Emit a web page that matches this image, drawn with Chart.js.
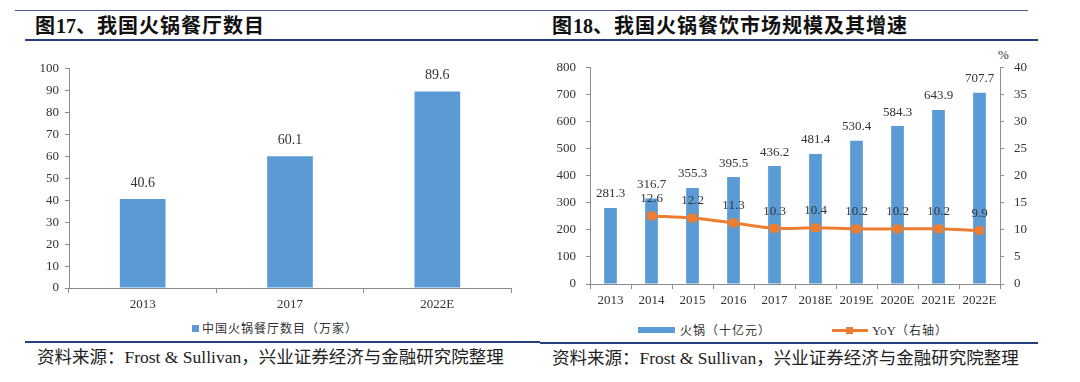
<!DOCTYPE html>
<html>
<head>
<meta charset="utf-8">
<script src="https://cdn.jsdelivr.net/npm/chart.js@4/dist/chart.umd.min.js"></script>
<style>
  body { margin: 0; width: 1080px; height: 382px; background: #fff; position: relative; overflow: hidden; }
  .abs { position: absolute; }
  .titulo { font-family: "Liberation Serif", "Noto Sans CJK SC", serif; font-weight: bold; font-size: 20px; line-height: 24px; color: #111; white-space: nowrap; }
  .titulo .cjk { font-family: "Noto Sans CJK SC", sans-serif; letter-spacing: 1px; }
  .linha-fina { height: 1px; background: #4a5a8a; }
  .linha-grossa { height: 2px; background: #24407a; }
  .fonte { font-family: "Liberation Serif", "Noto Sans CJK SC", serif; font-size: 17.5px; line-height: 22px; color: #222; white-space: nowrap; }
  .fonte .cjk { font-family: "Noto Sans CJK SC", sans-serif; }
  .legenda { font-family: "Noto Sans CJK SC", sans-serif; font-size: 12px; color: #333; white-space: nowrap; letter-spacing: 1px; }
  .leg-latin { font-family: "Liberation Serif", serif; font-size: 13px; letter-spacing: 0; }
</style>
</head>
<body>
  <!-- painel esquerdo -->
  <div class="abs linha-fina" style="left:15px; top:10px; width:525px;"></div>
  <div class="abs titulo" style="left:35px; top:13px;"><span class="cjk">图</span>17<span class="cjk">、我国火锅餐厅数目</span></div>
  <div class="abs linha-grossa" style="left:25px; top:39px; width:515px;"></div>
  <div class="abs" style="left:19px; top:55px; width:500px; height:255px;"><canvas id="grafico-restaurantes"></canvas></div>
  <div class="abs legenda" style="left:192px; top:319px;"><span style="display:inline-block;width:7px;height:7px;background:#5B9BD5;margin-right:3px;vertical-align:1px;"></span>中国火锅餐厅数目（万家）</div>
  <div class="abs linha-grossa" style="left:25px; top:341px; width:515px;"></div>
  <div class="abs fonte" style="left:37px; top:345px;"><span class="cjk">资料来源：</span>Frost &amp; Sullivan<span class="cjk">，兴业证券经济与金融研究院整理</span></div>

  <!-- painel direito -->
  <div class="abs linha-fina" style="left:540px; top:10px; width:488px;"></div>
  <div class="abs titulo" style="left:552px; top:13px;"><span class="cjk">图</span>18<span class="cjk">、我国火锅餐饮市场规模及其增速</span></div>
  <div class="abs linha-grossa" style="left:540px; top:39px; width:498px;"></div>
  <div class="abs" style="left:998px; top:47px; font-family:'Liberation Serif',serif; font-size:13px; color:#333;">%</div>
  <div class="abs" style="left:550px; top:50px; width:485px; height:256px;"><canvas id="grafico-mercado"></canvas></div>
  <div class="abs legenda" style="left:638px; top:321px;"><span style="display:inline-block;width:37px;height:6px;background:#5B9BD5;margin-right:5px;vertical-align:2px;"></span>火锅（十亿元）</div>
  <div class="abs legenda" style="left:832px; top:321px;"><span style="display:inline-block;position:relative;width:36px;height:3px;background:#ED7D31;margin-right:4px;vertical-align:3px;"><span style="position:absolute;left:14px;top:-2px;width:7px;height:7px;background:#ED7D31;"></span></span><span class="leg-latin">YoY</span>（右轴）</div>
  <div class="abs linha-grossa" style="left:540px; top:342px; width:498px;"></div>
  <div class="abs fonte" style="left:552px; top:346px;"><span class="cjk">资料来源：</span>Frost &amp; Sullivan<span class="cjk">，兴业证券经济与金融研究院整理</span></div>

<script>
// dados - figura 17
const anosRestaurantes = ["2013", "2017", "2022E"];
const numeroRestaurantes = [40.6, 60.1, 89.6];

// dados - figura 18
const anosMercado = ["2013", "2014", "2015", "2016", "2017", "2018E", "2019E", "2020E", "2021E", "2022E"];
const tamanhoMercado = [281.3, 316.7, 355.3, 395.5, 436.2, 481.4, 530.4, 584.3, 643.9, 707.7];
const crescimentoYoY = [null, 12.6, 12.2, 11.3, 10.3, 10.4, 10.2, 10.2, 10.2, 9.9];

const corAzul = "#5B9BD5";
const corLaranja = "#ED7D31";
const corEixo = "#8c8c8c";
const corTexto = "#333";
const fonteNum = { family: "'Liberation Serif', serif", size: 13 };

// rotulos de valor acima das barras/pontos
const rotulos = {
  id: "rotulos",
  afterDatasetsDraw(chart, args, opts) {
    const ctx = chart.ctx;
    ctx.save();
    ctx.fillStyle = corTexto;
    ctx.textAlign = "center";
    ctx.textBaseline = "middle";
    chart.data.datasets.forEach((ds, i) => {
      const meta = chart.getDatasetMeta(i);
      const desloc = ds.type === "line" ? 17 : opts.offset;
      ctx.font = (opts.size || 13) + "px 'Liberation Serif', serif";
      meta.data.forEach((el, idx) => {
        const v = ds.data[idx];
        if (v === null || v === undefined) return;
        ctx.fillText(v.toFixed(1), el.x, el.y - desloc);
      });
    });
    ctx.restore();
  }
};

function larguraFixa(w) {
  return scale => { scale.width = w; };
}
function alturaFixa(h) {
  return scale => { scale.height = h; };
}

new Chart(document.getElementById("grafico-restaurantes").getContext("2d"), {
  type: "bar",
  data: {
    labels: anosRestaurantes,
    datasets: [{
      data: numeroRestaurantes,
      backgroundColor: corAzul,
      categoryPercentage: 1,
      barPercentage: 0.31
    }]
  },
  options: {
    responsive: true,
    maintainAspectRatio: false,
    animation: false,
    layout: { padding: { top: 13, right: 8, left: 0, bottom: 0 } },
    plugins: {
      legend: { display: false },
      tooltip: { enabled: false },
      rotulos: { offset: 16, size: 14 }
    },
    scales: {
      x: {
        afterFit: alturaFixa(22),
        grid: { display: true, drawOnChartArea: false, drawTicks: true, tickLength: 5, color: corEixo, offset: true },
        border: { color: corEixo },
        ticks: { color: corTexto, font: fonteNum, padding: 4 }
      },
      y: {
        min: 0, max: 100,
        afterFit: larguraFixa(50),
        grid: { display: true, drawOnChartArea: false, drawTicks: true, tickLength: 4, color: corEixo },
        border: { color: corEixo },
        ticks: { stepSize: 10, color: corTexto, font: fonteNum, padding: 6 }
      }
    }
  },
  plugins: [rotulos]
});

new Chart(document.getElementById("grafico-mercado").getContext("2d"), {
  type: "bar",
  data: {
    labels: anosMercado,
    datasets: [{
      type: "line",
      data: crescimentoYoY,
      yAxisID: "y1",
      borderColor: corLaranja,
      backgroundColor: corLaranja,
      borderWidth: 3,
      pointStyle: "rect",
      pointRadius: 4,
      tension: 0.3,
      order: 0
    }, {
      type: "bar",
      data: tamanhoMercado,
      yAxisID: "y",
      backgroundColor: corAzul,
      categoryPercentage: 1,
      barPercentage: 0.31,
      order: 1
    }]
  },
  options: {
    responsive: true,
    maintainAspectRatio: false,
    animation: false,
    layout: { padding: { top: 14, right: 0, left: 0, bottom: 0 } },
    plugins: {
      legend: { display: false },
      tooltip: { enabled: false },
      rotulos: { offset: 14, size: 13 }
    },
    scales: {
      x: {
        afterFit: alturaFixa(22),
        grid: { display: true, drawOnChartArea: false, drawTicks: true, tickLength: 5, color: corEixo, offset: true },
        border: { color: corEixo },
        ticks: { color: corTexto, font: fonteNum, padding: 4, maxRotation: 0, autoSkip: false }
      },
      y: {
        position: "left",
        min: 0, max: 800,
        afterFit: larguraFixa(40),
        grid: { display: true, drawOnChartArea: false, drawTicks: true, tickLength: 4, color: corEixo },
        border: { color: corEixo },
        ticks: { stepSize: 100, color: corTexto, font: fonteNum, padding: 10 }
      },
      y1: {
        position: "right",
        min: 0, max: 40,
        afterFit: larguraFixa(35),
        grid: { display: true, drawOnChartArea: false, drawTicks: true, tickLength: 4, color: corEixo },
        border: { color: corEixo },
        ticks: { stepSize: 5, color: corTexto, font: fonteNum, padding: 10 }
      }
    }
  },
  plugins: [rotulos]
});
</script>
</body>
</html>
